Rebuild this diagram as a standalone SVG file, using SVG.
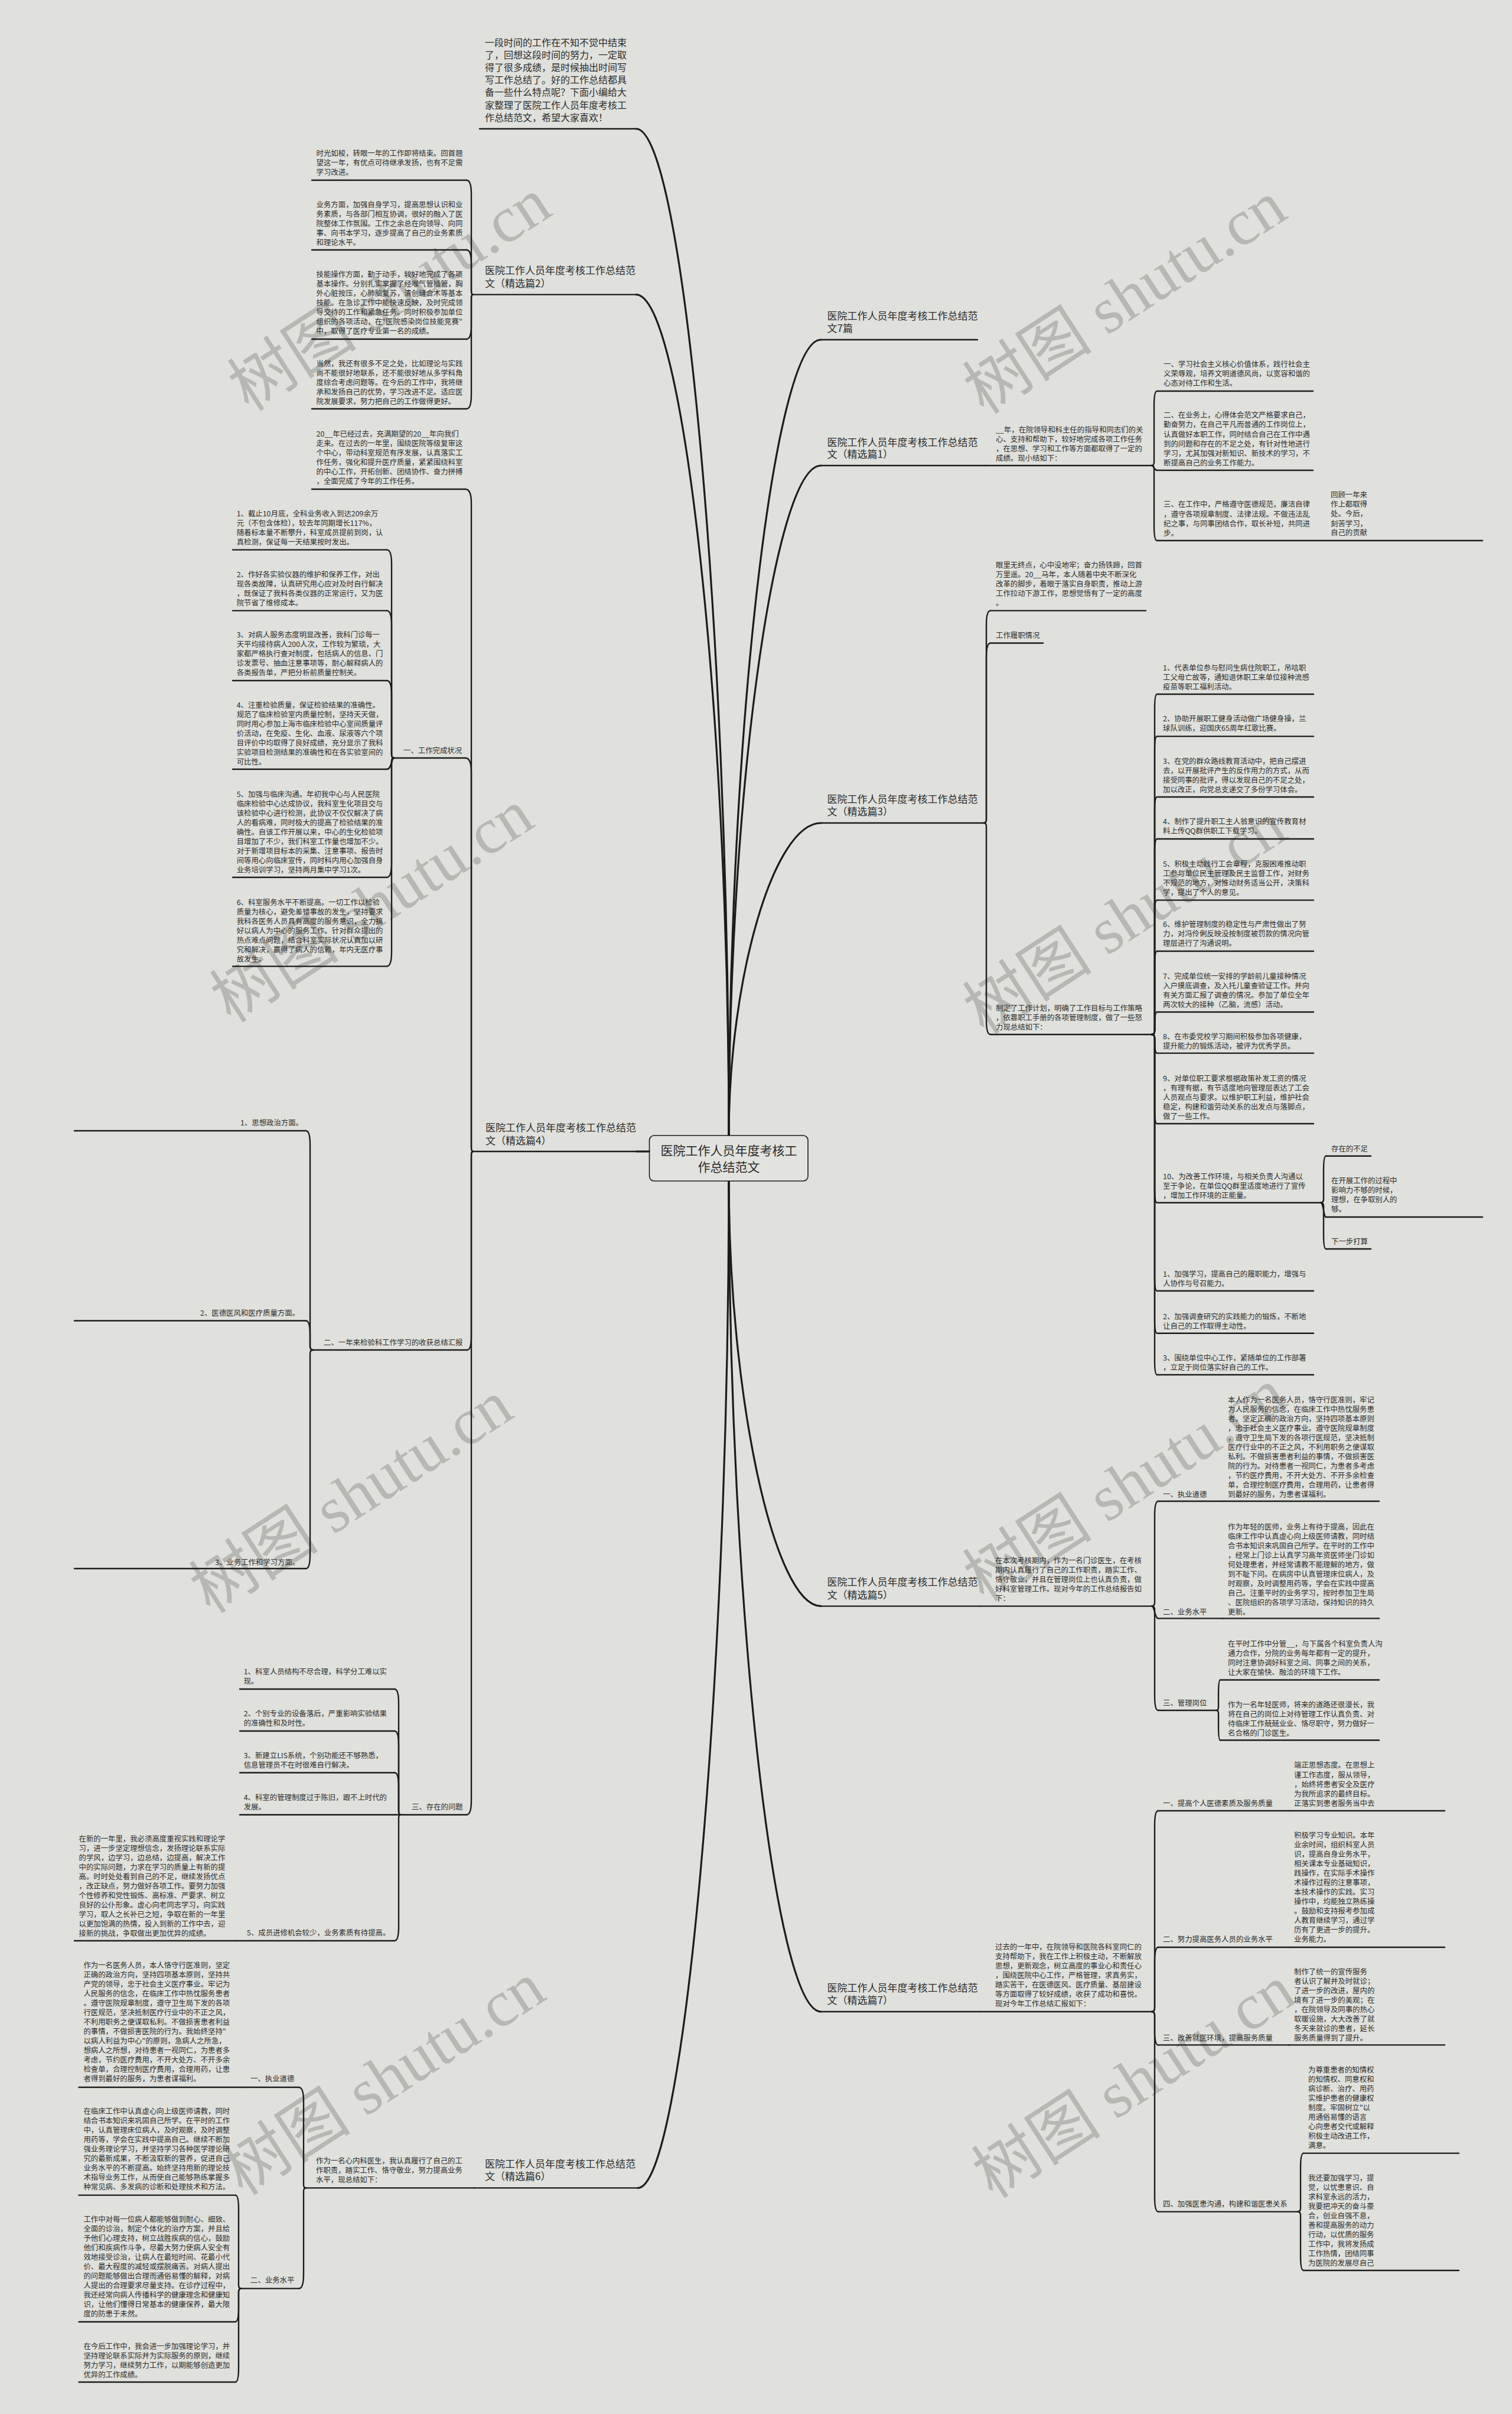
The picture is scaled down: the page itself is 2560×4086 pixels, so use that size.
<svg xmlns="http://www.w3.org/2000/svg" width="2560" height="4086" viewBox="0 0 2560 4086">
<style>
.bg{fill:#e0e1dc}
.wm{font-family:"Liberation Serif","Noto Sans CJK SC",serif;font-size:110px;fill:#b7b8b3;text-anchor:middle}
text{font-family:"Noto Sans CJK SC","Noto Sans",sans-serif;fill:#2b2b2b}
.b{font-size:12.4px}
.l{font-size:17px}
.i{font-size:16px}
.c{font-size:21px;text-anchor:middle}
.u{fill:none;stroke:#1c1c1c;stroke-width:2.4;stroke-linecap:round}
.k{fill:none;stroke:#1c1c1c;stroke-width:2.4;stroke-linecap:round;stroke-linejoin:round}
.t{fill:none;stroke:#1c1c1c;stroke-width:3.2;stroke-linecap:round}
</style>
<rect class="bg" x="0" y="0" width="2560" height="4086"/>
<g id="watermarks">
<text class="wm" transform="translate(680,530) rotate(-33)">树图 shutu.cn</text>
<text class="wm" transform="translate(650,1565) rotate(-33)">树图 shutu.cn</text>
<text class="wm" transform="translate(615,2565) rotate(-33)">树图 shutu.cn</text>
<text class="wm" transform="translate(670,3550) rotate(-33)">树图 shutu.cn</text>
<text class="wm" transform="translate(1925,535) rotate(-33)">树图 shutu.cn</text>
<text class="wm" transform="translate(1925,1585) rotate(-33)">树图 shutu.cn</text>
<text class="wm" transform="translate(1925,2545) rotate(-33)">树图 shutu.cn</text>
<text class="wm" transform="translate(1940,3555) rotate(-33)">树图 shutu.cn</text>
</g>

<g id="connectors">
<path class="t" d="M1077,218 C1157,218 1234,1070 1234,1922"/>
<path class="t" d="M1077,498.6 C1157,498.6 1234,1210 1234,1922"/>
<path class="t" d="M1390,575 C1310,575 1234,1248 1234,1922"/>
<path class="t" d="M1390,788 C1310,788 1234,1355 1234,1922"/>
<path class="t" d="M1390,1393 C1310,1393 1234,1657 1234,1922"/>
<path class="t" d="M1234,1999 C1234,2359 1310,2718.6 1390,2718.6"/>
<path class="t" d="M1234,1999 C1234,2702 1310,3405 1390,3405"/>
<path class="t" d="M1234,1999 C1234,2851 1157,3703.4 1080,3703.4"/>
<path class="t" d="M1099.5,1949 L1077,1949"/>
<path class="k" d="M790,305 Q798,305 798,329 L798,492.6 Q798,498.6 801,498.6"/>
<path class="k" d="M790,423 Q798,423 798,447 L798,492.6 Q798,498.6 801,498.6"/>
<path class="k" d="M790,574 Q798,574 798,550 L798,504.6 Q798,498.6 801,498.6"/>
<path class="k" d="M790,692 Q798,692 798,668 L798,504.6 Q798,498.6 801,498.6"/>
<path class="k" d="M788,828 Q798,828 798,852 L798,1943 Q798,1949 801,1949"/>
<path class="k" d="M788,1283 Q798,1283 798,1307 L798,1943 Q798,1949 801,1949"/>
<path class="k" d="M791,2285 Q798,2285 798,2261 L798,1955 Q798,1949 801,1949"/>
<path class="k" d="M790,3071.7 Q798,3071.7 798,3047.7 L798,1955 Q798,1949 801,1949"/>
<path class="k" d="M655,930.6 Q663,930.6 663,954.6 L663,1277 Q663,1283 667,1283"/>
<path class="k" d="M655,1033.6 Q663,1033.6 663,1057.6 L663,1277 Q663,1283 667,1283"/>
<path class="k" d="M655,1152 Q663,1152 663,1176 L663,1277 Q663,1283 667,1283"/>
<path class="k" d="M655,1302 C663,1302 663,1283 667,1283"/>
<path class="k" d="M655,1485 Q663,1485 663,1461 L663,1289 Q663,1283 667,1283"/>
<path class="k" d="M655,1635.6 Q663,1635.6 663,1611.6 L663,1289 Q663,1283 667,1283"/>
<path class="k" d="M518,1914 Q525,1914 525,1938 L525,2279 Q525,2285 530,2285"/>
<path class="k" d="M518,2235.5 Q525,2235.5 525,2259.5 L525,2279 Q525,2285 530,2285"/>
<path class="k" d="M518,2655 Q525,2655 525,2631 L525,2291 Q525,2285 530,2285"/>
<path class="k" d="M668,2859 Q675,2859 675,2883 L675,3065.7 Q675,3071.7 678,3071.7"/>
<path class="k" d="M668,2930 Q675,2930 675,2954 L675,3065.7 Q675,3071.7 678,3071.7"/>
<path class="k" d="M668,3000.5 Q675,3000.5 675,3024.5 L675,3065.7 Q675,3071.7 678,3071.7"/>
<path class="k" d="M668,3071.7 L678,3071.7"/>
<path class="k" d="M668,3285 Q675,3285 675,3261 L675,3077.7 Q675,3071.7 678,3071.7"/>
<path class="k" d="M506,3533 Q514,3533 514,3557 L514,3697.4 Q514,3703.4 518,3703.4"/>
<path class="k" d="M506,3873.6 Q514,3873.6 514,3849.6 L514,3709.4 Q514,3703.4 518,3703.4"/>
<path class="k" d="M398.6,3715.6 Q404,3715.6 404,3739.6 L404,3867.6 Q404,3873.6 408,3873.6"/>
<path class="k" d="M398.6,3930 Q404,3930 404,3906 L404,3879.6 Q404,3873.6 408,3873.6"/>
<path class="k" d="M398.6,4032 Q404,4032 404,4008 L404,3879.6 Q404,3873.6 408,3873.6"/>
<path class="k" d="M1950,788 Q1954,788 1954,782 L1954,686 Q1954,662 1959,662"/>
<path class="k" d="M1950,788 C1954,788 1954,796 1959,796"/>
<path class="k" d="M1950,788 Q1954,788 1954,794 L1954,891 Q1954,915 1959,915"/>
<path class="k" d="M1666,1393 Q1670,1393 1670,1387 L1670,1057.6 Q1670,1033.6 1677,1033.6"/>
<path class="k" d="M1666,1393 Q1670,1393 1670,1387 L1670,1112.5 Q1670,1088.5 1677,1088.5"/>
<path class="k" d="M1666,1393 Q1670,1393 1670,1399 L1670,1727 Q1670,1751 1677,1751"/>
<path class="k" d="M1950,1751 Q1955,1751 1955,1745 L1955,1199 Q1955,1175 1959,1175"/>
<path class="k" d="M1950,1751 Q1955,1751 1955,1745 L1955,1270.4 Q1955,1246.4 1959,1246.4"/>
<path class="k" d="M1950,1751 Q1955,1751 1955,1745 L1955,1373 Q1955,1349 1959,1349"/>
<path class="k" d="M1950,1751 Q1955,1751 1955,1745 L1955,1444 Q1955,1420 1959,1420"/>
<path class="k" d="M1950,1751 Q1955,1751 1955,1745 L1955,1547.6 Q1955,1523.6 1959,1523.6"/>
<path class="k" d="M1950,1751 Q1955,1751 1955,1745 L1955,1634 Q1955,1610 1959,1610"/>
<path class="k" d="M1950,1751 Q1955,1751 1955,1745 L1955,1737 Q1955,1713 1959,1713"/>
<path class="k" d="M1950,1751 Q1955,1751 1955,1757 L1955,1758.6 Q1955,1782.6 1959,1782.6"/>
<path class="k" d="M1950,1751 Q1955,1751 1955,1757 L1955,1878 Q1955,1902 1959,1902"/>
<path class="k" d="M1950,1751 Q1955,1751 1955,1757 L1955,2011.7 Q1955,2035.7 1959,2035.7"/>
<path class="k" d="M1950,1751 Q1955,1751 1955,1757 L1955,2161 Q1955,2185 1959,2185"/>
<path class="k" d="M1950,1751 Q1955,1751 1955,1757 L1955,2232.7 Q1955,2256.7 1959,2256.7"/>
<path class="k" d="M1950,1751 Q1955,1751 1955,1757 L1955,2303 Q1955,2327 1959,2327"/>
<path class="k" d="M2236,2035.7 Q2241,2035.7 2241,2029.7 L2241,1980.7 Q2241,1956.7 2245,1956.7"/>
<path class="k" d="M2236,2035.7 C2241,2035.7 2241,2060 2245,2060"/>
<path class="k" d="M2236,2035.7 Q2241,2035.7 2241,2041.7 L2241,2090 Q2241,2114 2245,2114"/>
<path class="k" d="M1950,2718.6 Q1955,2718.6 1955,2712.6 L1955,2565 Q1955,2541 1961,2541"/>
<path class="k" d="M1950,2718.6 C1955,2718.6 1955,2739.4 1961,2739.4"/>
<path class="k" d="M1950,2718.6 Q1955,2718.6 1955,2724.6 L1955,2871 Q1955,2895 1961,2895"/>
<path class="k" d="M2060,2895 Q2063,2895 2063,2889 L2063,2867.5 Q2063,2843.5 2066,2843.5"/>
<path class="k" d="M2060,2895 Q2063,2895 2063,2901 L2063,2921.5 Q2063,2945.5 2066,2945.5"/>
<path class="k" d="M1950,3405 Q1955,3405 1955,3399 L1955,3089 Q1955,3065 1961,3065"/>
<path class="k" d="M1950,3405 Q1955,3405 1955,3399 L1955,3320 Q1955,3296 1961,3296"/>
<path class="k" d="M1950,3405 Q1955,3405 1955,3411 L1955,3437.4 Q1955,3461.4 1961,3461.4"/>
<path class="k" d="M1950,3405 Q1955,3405 1955,3411 L1955,3719.6 Q1955,3743.6 1961,3743.6"/>
<path class="k" d="M2197,3743.6 Q2202,3743.6 2202,3737.6 L2202,3668.6 Q2202,3644.6 2207,3644.6"/>
<path class="k" d="M2197,3743.6 Q2202,3743.6 2202,3749.6 L2202,3819 Q2202,3843 2207,3843"/>
</g>

<g id="center">
<rect x="1099.5" y="1922" width="268.5" height="77" rx="8" fill="#e2e3de" stroke="#1c1c1c" stroke-width="1.6"/>
<text class="c"><tspan x="1234" y="1954.7">医院工作人员年度考核工</tspan><tspan x="1234" y="1983">作总结范文</tspan></text>
</g>

<g id="intro">
<text class="i"><tspan x="821" y="77.5">一段时间的工作在不知不觉中结束</tspan><tspan x="821" y="98.7">了，回想这段时间的努力，一定取</tspan><tspan x="821" y="119.9">得了很多成绩，是时候抽出时间写</tspan><tspan x="821" y="141.1">写工作总结了。好的工作总结都具</tspan><tspan x="821" y="162.3">备一些什么特点呢？下面小编给大</tspan><tspan x="821" y="183.5">家整理了医院工作人员年度考核工</tspan><tspan x="821" y="204.7">作总结范文，希望大家喜欢！</tspan></text>
<path class="u" d="M812,218 H1077"/>
</g>

<g id="pian2">
<text class="l"><tspan x="821" y="464">医院工作人员年度考核工作总结范</tspan><tspan x="821" y="486">文（精选篇2）</tspan></text>
<path class="u" d="M801,498.6 H1077"/>
</g>
<g id="p2a">
<text class="b"><tspan x="535.6" y="263.6">时光如梭，转眼一年的工作即将结束。回首翘</tspan><tspan x="535.6" y="279.6">望这一年，有优点可待继承发扬，也有不足需</tspan><tspan x="535.6" y="295.6">学习改进。</tspan></text>
<path class="u" d="M528,305 H790"/>
</g>
<g id="p2b">
<text class="b"><tspan x="535.6" y="351">业务方面，加强自身学习，提高思想认识和业</tspan><tspan x="535.6" y="367">务素质，与各部门相互协调，很好的融入了医</tspan><tspan x="535.6" y="383">院整体工作氛围。工作之余总在向领导、向同</tspan><tspan x="535.6" y="399">事、向书本学习，逐步提高了自己的业务素质</tspan><tspan x="535.6" y="415">和理论水平。</tspan></text>
<path class="u" d="M528,423 H790"/>
</g>
<g id="p2c">
<text class="b"><tspan x="535.6" y="469">技能操作方面，勤于动手，较好地完成了各项</tspan><tspan x="535.6" y="485">基本操作。分别扎实掌握了经喉气管插管，胸</tspan><tspan x="535.6" y="501">外心脏按压，心肺脑复苏，清创缝合术等基本</tspan><tspan x="535.6" y="517">技能。在急诊工作中能快速反映，及时完成领</tspan><tspan x="535.6" y="533">导交待的工作和紧急任务。同时积极参加单位</tspan><tspan x="535.6" y="549">组织的各项活动，在"医院感染岗位技能竞赛"</tspan><tspan x="535.6" y="565">中，取得了医疗专业第一名的成绩。</tspan></text>
<path class="u" d="M528,574 H790"/>
</g>
<g id="p2d">
<text class="b"><tspan x="535.6" y="620">当然，我还有很多不足之处，比如理论与实践</tspan><tspan x="535.6" y="636">尚不能很好地联系，还不能很好地从多学科角</tspan><tspan x="535.6" y="652">度综合考虑问题等。在今后的工作中，我将继</tspan><tspan x="535.6" y="668">承和发扬自己的优势，学习改进不足。适应医</tspan><tspan x="535.6" y="684">院发展要求，努力把自己的工作做得更好。</tspan></text>
<path class="u" d="M528,692 H790"/>
</g>

<g id="pian4">
<text class="l"><tspan x="822" y="1915">医院工作人员年度考核工作总结范</tspan><tspan x="822" y="1936.5">文（精选篇4）</tspan></text>
<path class="u" d="M801,1949 H1099.5"/>
</g>
<g id="p4intro">
<text class="b"><tspan x="535.6" y="738.5">20__年已经过去，充满期望的20__年向我们</tspan><tspan x="535.6" y="754.5">走来。在过去的一年里，围绕医院等级复审这</tspan><tspan x="535.6" y="770.5">个中心，带动科室规范有序发展，认真落实工</tspan><tspan x="535.6" y="786.5">作任务，强化和提升医疗质量，紧紧围绕科室</tspan><tspan x="535.6" y="802.5">的中心工作，开拓创新、团结协作、奋力拼搏</tspan><tspan x="535.6" y="818.5">，全面完成了今年的工作任务。</tspan></text>
<path class="u" d="M528,828 H788"/>
</g>
<g id="p4s1">
<text class="b"><tspan x="683" y="1274.5">一、工作完成状况</tspan></text>
<path class="u" d="M667,1283 H788"/>
</g>
<g id="p4s1i1">
<text class="b"><tspan x="400.7" y="873.5">1、截止10月底，全科业务收入到达209余万</tspan><tspan x="400.7" y="889.5">元（不包含体检），较去年同期增长117%，</tspan><tspan x="400.7" y="905.5">随着标本量不断攀升，科室成员提前到岗，认</tspan><tspan x="400.7" y="921.5">真检测，保证每一天结果按时发出。</tspan></text>
<path class="u" d="M394,930.6 H655"/>
</g>
<g id="p4s1i2">
<text class="b"><tspan x="400.7" y="976.5">2、作好各实验仪器的维护和保养工作，对出</tspan><tspan x="400.7" y="992.5">现各类故障，认真研究用心应对及时自行解决</tspan><tspan x="400.7" y="1008.5">，既保证了我科各类仪器的正常运行，又为医</tspan><tspan x="400.7" y="1024.5">院节省了维修成本。</tspan></text>
<path class="u" d="M394,1033.6 H655"/>
</g>
<g id="p4s1i3">
<text class="b"><tspan x="400.7" y="1079">3、对病人服务态度明显改善，我科门诊每一</tspan><tspan x="400.7" y="1095">天平均接待病人200人次，工作较为繁琐，大</tspan><tspan x="400.7" y="1111">家都严格执行查对制度，包括病人的信息、门</tspan><tspan x="400.7" y="1127">诊发票号、抽血注意事项等，耐心解释病人的</tspan><tspan x="400.7" y="1143">各类报告单，严把分析前质量控制关。</tspan></text>
<path class="u" d="M394,1152 H655"/>
</g>
<g id="p4s1i4">
<text class="b"><tspan x="400.7" y="1197.5">4、注重检验质量，保证检验结果的准确性。</tspan><tspan x="400.7" y="1213.5">规范了临床检验室内质量控制，坚持天天做，</tspan><tspan x="400.7" y="1229.5">同时用心参加上海市临床检验中心室间质量评</tspan><tspan x="400.7" y="1245.5">价活动，在免疫、生化、血液、尿液等六个项</tspan><tspan x="400.7" y="1261.5">目评价中均取得了良好成绩，充分显示了我科</tspan><tspan x="400.7" y="1277.5">实验项目检测结果的准确性和在各实验室间的</tspan><tspan x="400.7" y="1293.5">可比性。</tspan></text>
<path class="u" d="M394,1302 H655"/>
</g>
<g id="p4s1i5">
<text class="b"><tspan x="400.7" y="1348.5">5、加强与临床沟通。年初我中心与人民医院</tspan><tspan x="400.7" y="1364.5">临床检验中心达成协议，我科室生化项目交与</tspan><tspan x="400.7" y="1380.5">该检验中心进行检测，此协议不仅仅解决了病</tspan><tspan x="400.7" y="1396.5">人的看病难，同时极大的提高了检验结果的准</tspan><tspan x="400.7" y="1412.5">确性。自该工作开展以来，中心的生化检验项</tspan><tspan x="400.7" y="1428.5">目增加了不少，我们科室工作量也增加不少。</tspan><tspan x="400.7" y="1444.5">对于新增项目标本的采集、注意事项、报告时</tspan><tspan x="400.7" y="1460.5">间等用心向临床宣传，同时科内用心加强自身</tspan><tspan x="400.7" y="1476.5">业务培训学习，坚持两月集中学习1次。</tspan></text>
<path class="u" d="M394,1485 H655"/>
</g>
<g id="p4s1i6">
<text class="b"><tspan x="400.7" y="1531.5">6、科室服务水平不断提高。一切工作以检验</tspan><tspan x="400.7" y="1547.5">质量为核心，避免差错事故的发生，坚持要求</tspan><tspan x="400.7" y="1563.5">我科各医务人员具有高度的服务意识，全力搞</tspan><tspan x="400.7" y="1579.5">好以病人为中心的服务工作。针对群众提出的</tspan><tspan x="400.7" y="1595.5">热点难点问题，结合科室实际状况认真加以研</tspan><tspan x="400.7" y="1611.5">究和解决，赢得了病人的信赖，年内无医疗事</tspan><tspan x="400.7" y="1627.5">故发生。</tspan></text>
<path class="u" d="M394,1635.6 H655"/>
</g>
<g id="p4s2">
<text class="b"><tspan x="548" y="2276.5">二、一年来检验科工作学习的收获总结汇报</tspan></text>
<path class="u" d="M530,2285 H791"/>
</g>
<g id="p4s2i1">
<text class="b"><tspan x="407" y="1905">1、思想政治方面。</tspan></text>
<path class="u" d="M126,1914 H518"/>
</g>
<g id="p4s2i2">
<text class="b"><tspan x="339" y="2226.5">2、医德医风和医疗质量方面。</tspan></text>
<path class="u" d="M126,2235.5 H518"/>
</g>
<g id="p4s2i3">
<text class="b"><tspan x="364" y="2648.5">3、业务工作和学习方面。</tspan></text>
<path class="u" d="M126,2655 H518"/>
</g>
<g id="p4s3">
<text class="b"><tspan x="697" y="3062.5">三、存在的问题</tspan></text>
<path class="u" d="M678,3071.7 H790"/>
</g>
<g id="p4s3i1">
<text class="b"><tspan x="412.7" y="2834">1、科室人员结构不尽合理，科学分工难以实</tspan><tspan x="412.7" y="2850">现。</tspan></text>
<path class="u" d="M406,2859 H668"/>
</g>
<g id="p4s3i2">
<text class="b"><tspan x="412.7" y="2904.5">2、个别专业的设备落后，严重影响实验结果</tspan><tspan x="412.7" y="2920.5">的准确性和及时性。</tspan></text>
<path class="u" d="M406,2930 H668"/>
</g>
<g id="p4s3i3">
<text class="b"><tspan x="412.7" y="2975.5">3、新建立LIS系统，个别功能还不够熟悉，</tspan><tspan x="412.7" y="2991.5">信息管理员不在时很难自行解决。</tspan></text>
<path class="u" d="M406,3000.5 H668"/>
</g>
<g id="p4s3i4">
<text class="b"><tspan x="412.7" y="3046.5">4、科室的管理制度过于陈旧，跟不上时代的</tspan><tspan x="412.7" y="3062.5">发展。</tspan></text>
<path class="u" d="M406,3071.7 H668"/>
</g>
<g id="p4s3i5">
<text class="b"><tspan x="418" y="3276">5、成员进修机会较少，业务素质有待提高。</tspan></text>
<path class="u" d="M400,3285 H668"/>
</g>
<g id="p4s3i5a">
<text class="b"><tspan x="133.5" y="3116.5">在新的一年里，我必须高度重视实践和理论学</tspan><tspan x="133.5" y="3132.5">习，进一步坚定理想信念，发扬理论联系实际</tspan><tspan x="133.5" y="3148.5">的学风，边学习，边总结，边提高，解决工作</tspan><tspan x="133.5" y="3164.5">中的实际问题，力求在学习的质量上有新的提</tspan><tspan x="133.5" y="3180.5">高。时时处处看到自己的不足，继续发扬优点</tspan><tspan x="133.5" y="3196.5">，改正缺点，努力做好各项工作。要努力加强</tspan><tspan x="133.5" y="3212.5">个性修养和党性锻炼、高标准、严要求、树立</tspan><tspan x="133.5" y="3228.5">良好的公仆形象。虚心向老同志学习，向实践</tspan><tspan x="133.5" y="3244.5">学习，取人之长补已之短，争取在新的一年里</tspan><tspan x="133.5" y="3260.5">以更加饱满的热情，投入到新的工作中去，迎</tspan><tspan x="133.5" y="3276.5">接新的挑战，争取做出更加优异的成绩。</tspan></text>
<path class="u" d="M126,3285 H400"/>
</g>

<g id="pian6">
<text class="l"><tspan x="821" y="3669">医院工作人员年度考核工作总结范</tspan><tspan x="821" y="3690">文（精选篇6）</tspan></text>
<path class="u" d="M803,3703.4 H1080"/>
</g>
<g id="p6d">
<text class="b"><tspan x="535" y="3661.5">作为一名心内科医生，我认真履行了自己的工</tspan><tspan x="535" y="3677.5">作职责，踏实工作、恪守敬业，努力提高业务</tspan><tspan x="535" y="3693.5">水平，现总结如下：</tspan></text>
<path class="u" d="M518,3703.4 H803"/>
</g>
<g id="p6s1">
<text class="b"><tspan x="424" y="3523">一、执业道德</tspan></text>
<path class="u" d="M416,3533 H506"/>
</g>
<g id="p6s1a">
<text class="b"><tspan x="141.4" y="3331.3">作为一名医务人员，本人恪守行医准则，坚定</tspan><tspan x="141.4" y="3347.3">正确的政治方向，坚持四项基本原则，坚持共</tspan><tspan x="141.4" y="3363.3">产党的领导，忠于社会主义医疗事业。牢记为</tspan><tspan x="141.4" y="3379.3">人民服务的信念，在临床工作中热忱服务患者</tspan><tspan x="141.4" y="3395.3">。遵守医院规章制度，遵守卫生局下发的各项</tspan><tspan x="141.4" y="3411.3">行医规范，坚决抵制医疗行业中的不正之风，</tspan><tspan x="141.4" y="3427.3">不利用职务之便谋取私利。不做损害患者利益</tspan><tspan x="141.4" y="3443.3">的事情，不做损害医院的行为。我始终坚持"</tspan><tspan x="141.4" y="3459.3">以病人利益为中心"的原则，急病人之所急，</tspan><tspan x="141.4" y="3475.3">想病人之所想，对待患者一视同仁，为患者多</tspan><tspan x="141.4" y="3491.3">考虑，节约医疗费用，不开大处方、不开多余</tspan><tspan x="141.4" y="3507.3">检查单，合理控制医疗费用，合理用药，让患</tspan><tspan x="141.4" y="3523.3">者得到最好的服务，为患者谋福利。</tspan></text>
<path class="u" d="M133.5,3533 H416"/>
</g>
<g id="p6s2">
<text class="b"><tspan x="424" y="3864">二、业务水平</tspan></text>
<path class="u" d="M408,3873.6 H506"/>
</g>
<g id="p6s2a">
<text class="b"><tspan x="141.4" y="3578">在临床工作中认真虚心向上级医师请教，同时</tspan><tspan x="141.4" y="3594">结合书本知识来巩固自己所学。在平时的工作</tspan><tspan x="141.4" y="3610">中，认真管理床位病人，及时观察，及时调整</tspan><tspan x="141.4" y="3626">用药等，学会在实践中提高自己。继续不断加</tspan><tspan x="141.4" y="3642">强业务理论学习，并坚持学习各种医学理论研</tspan><tspan x="141.4" y="3658">究的最新成果，不断汲取新的营养，促进自己</tspan><tspan x="141.4" y="3674">业务水平的不断提高。始终坚持用新的理论技</tspan><tspan x="141.4" y="3690">术指导业务工作，从而使自己能够熟练掌握多</tspan><tspan x="141.4" y="3706">种常见病、多发病的诊断和处理技术和方法。</tspan></text>
<path class="u" d="M133.5,3715.6 H398.6"/>
</g>
<g id="p6s2b">
<text class="b"><tspan x="141.4" y="3760.5">工作中对每一位病人都能够做到耐心、细致、</tspan><tspan x="141.4" y="3776.5">全面的诊治，制定个体化的治疗方案，并且给</tspan><tspan x="141.4" y="3792.5">予他们心理支持，树立战胜疾病的信心，鼓励</tspan><tspan x="141.4" y="3808.5">他们和疾病作斗争，尽最大努力使病人安全有</tspan><tspan x="141.4" y="3824.5">效地接受诊治，让病人在最短时间、花最小代</tspan><tspan x="141.4" y="3840.5">价、最大程度的减轻或摆脱痛苦。对病人提出</tspan><tspan x="141.4" y="3856.5">的问题能够做出合理而通俗易懂的解释，对病</tspan><tspan x="141.4" y="3872.5">人提出的合理要求尽量支持。在诊疗过程中，</tspan><tspan x="141.4" y="3888.5">我还经常向病人传播科学的健康理念和健康知</tspan><tspan x="141.4" y="3904.5">识，让他们懂得日常基本的健康保养，最大限</tspan><tspan x="141.4" y="3920.5">度的防患于未然。</tspan></text>
<path class="u" d="M133.5,3930 H398.6"/>
</g>
<g id="p6s2c">
<text class="b"><tspan x="141.4" y="3975.5">在今后工作中，我会进一步加强理论学习，并</tspan><tspan x="141.4" y="3991.5">坚持理论联系实际并为实际服务的原则，继续</tspan><tspan x="141.4" y="4007.5">努力学习，继续努力工作，以期能够创造更加</tspan><tspan x="141.4" y="4023.5">优异的工作成绩。</tspan></text>
<path class="u" d="M133.5,4032 H398.6"/>
</g>

<g id="title7">
<text class="l"><tspan x="1400.6" y="541">医院工作人员年度考核工作总结范</tspan><tspan x="1400.6" y="562">文7篇</tspan></text>
<path class="u" d="M1390,575 H1655"/>
</g>

<g id="pian1">
<text class="l"><tspan x="1400.6" y="755">医院工作人员年度考核工作总结范</tspan><tspan x="1400.6" y="775">文（精选篇1）</tspan></text>
<path class="u" d="M1390,788 H1669"/>
</g>
<g id="p1d">
<text class="b"><tspan x="1686" y="732.2">__年，在院领导和科主任的指导和同志们的关</tspan><tspan x="1686" y="748">心、支持和帮助下，较好地完成各项工作任务</tspan><tspan x="1686" y="763.5">，在思想、学习和工作等方面都取得了一定的</tspan><tspan x="1686" y="779.5">成绩。现小结如下：</tspan></text>
<path class="u" d="M1669,788 H1950"/>
</g>
<g id="p1a">
<text class="b"><tspan x="1970" y="621.2">一、学习社会主义核心价值体系，践行社会主</tspan><tspan x="1970" y="637.2">义荣辱观，培养文明道德风尚，以宽容和谐的</tspan><tspan x="1970" y="652.8">心态对待工作和生活。</tspan></text>
<path class="u" d="M1959,662 H2223"/>
</g>
<g id="p1b">
<text class="b"><tspan x="1970" y="707.2">二、在业务上，心得体会范文严格要求自己，</tspan><tspan x="1970" y="723">勤奋努力，在自己平凡而普通的工作岗位上，</tspan><tspan x="1970" y="739.5">认真做好本职工作，同时结合自己在工作中遇</tspan><tspan x="1970" y="755.5">到的问题和存在的不足之处，有针对性地进行</tspan><tspan x="1970" y="771.8">学习，尤其加强对新知识、新技术的学习，不</tspan><tspan x="1970" y="787.8">断提高自己的业务工作能力。</tspan></text>
<path class="u" d="M1959,796 H2223"/>
</g>
<g id="p1c">
<text class="b"><tspan x="1970" y="857.8">三、在工作中，严格遵守医德规范，廉洁自律</tspan><tspan x="1970" y="874.5">，遵守各项规章制度、法律法规。不做违法乱</tspan><tspan x="1970" y="890.5">纪之事，与同事团结合作，取长补短，共同进</tspan><tspan x="1970" y="907.2">步。</tspan></text>
<path class="u" d="M1959,915 H2245"/>
</g>
<g id="p1c1">
<text class="b"><tspan x="2253" y="842.2">回顾一年来</tspan><tspan x="2253" y="857.8">作上都取得</tspan><tspan x="2253" y="873.8">处。今后，</tspan><tspan x="2253" y="890.5">刻苦学习，</tspan><tspan x="2253" y="906.2">自己的贡献</tspan></text>
<path class="u" d="M2245,915 H2510"/>
</g>

<g id="pian3">
<text class="l"><tspan x="1400.6" y="1359">医院工作人员年度考核工作总结范</tspan><tspan x="1400.6" y="1380">文（精选篇3）</tspan></text>
<path class="u" d="M1390,1393 H1666"/>
</g>
<g id="p3a">
<text class="b"><tspan x="1686" y="960.5">眼里无终点，心中没地牢；奋力扬铁蹄，回首</tspan><tspan x="1686" y="976.5">万里遥。20__马年，本人随着中央不断深化</tspan><tspan x="1686" y="992.5">改革的脚步，着眼于落实自身职责，推动上游</tspan><tspan x="1686" y="1008.5">工作拉动下游工作，思想觉悟有了一定的高度</tspan><tspan x="1686" y="1024.5">。</tspan></text>
<path class="u" d="M1677,1033.6 H1940"/>
</g>
<g id="p3b">
<text class="b"><tspan x="1686" y="1079.5">工作履职情况</tspan></text>
<path class="u" d="M1677,1088.5 H1766"/>
</g>
<g id="p3c">
<text class="b"><tspan x="1686" y="1710.5">制定了工作计划，明确了工作目标与工作策略</tspan><tspan x="1686" y="1726.5">，依靠职工手册的各项管理制度，做了一些怒</tspan><tspan x="1686" y="1742.5">力现总结如下：</tspan></text>
<path class="u" d="M1677,1751 H1950"/>
</g>
<g id="p3c1">
<text class="b"><tspan x="1969" y="1134.5">1、代表单位参与慰问生病住院职工，吊唁职</tspan><tspan x="1969" y="1150.5">工父母亡故等，通知退休职工来单位接种流感</tspan><tspan x="1969" y="1166.5">疫苗等职工福利活动。</tspan></text>
<path class="u" d="M1959,1175 H2224"/>
</g>
<g id="p3c2">
<text class="b"><tspan x="1969" y="1221">2、协助开展职工健身活动做广场健身操，兰</tspan><tspan x="1969" y="1237">球队训练，迎国庆65周年红歌比赛。</tspan></text>
<path class="u" d="M1959,1246.4 H2224"/>
</g>
<g id="p3c3">
<text class="b"><tspan x="1969" y="1292.5">3、在党的群众路线教育活动中，把自己摆进</tspan><tspan x="1969" y="1308.5">去，以开展批评产生的反作用力的方式，从而</tspan><tspan x="1969" y="1324.5">接受同事的批评，得以发现自己的不足之处，</tspan><tspan x="1969" y="1340.5">加以改正，向党总支递交了多份学习体会。</tspan></text>
<path class="u" d="M1959,1349 H2224"/>
</g>
<g id="p3c4">
<text class="b"><tspan x="1969" y="1394.5">4、制作了提升职工主人翁意识的宣传教育材</tspan><tspan x="1969" y="1410.5">料上传QQ群供职工下载学习。</tspan></text>
<path class="u" d="M1959,1420 H2224"/>
</g>
<g id="p3c5">
<text class="b"><tspan x="1969" y="1466.5">5、积极主动践行工会章程，克服困难推动职</tspan><tspan x="1969" y="1482.5">工参与单位民主管理及民主监督工作，对财务</tspan><tspan x="1969" y="1498.5">不规范的地方，对推动财务适当公开，决策科</tspan><tspan x="1969" y="1514.5">学，提出了个人的意见。</tspan></text>
<path class="u" d="M1959,1523.6 H2224"/>
</g>
<g id="p3c6">
<text class="b"><tspan x="1969" y="1568.5">6、维护管理制度的稳定性与严肃性做出了努</tspan><tspan x="1969" y="1584.5">力，对冯伶俐反映没按制度被罚款的情况向管</tspan><tspan x="1969" y="1600.5">理层进行了沟通说明。</tspan></text>
<path class="u" d="M1959,1610 H2224"/>
</g>
<g id="p3c7">
<text class="b"><tspan x="1969" y="1656.5">7、完成单位统一安排的学龄前儿童接种情况</tspan><tspan x="1969" y="1672.5">入户摸底调查，及入托儿童查验证工作。并向</tspan><tspan x="1969" y="1688.5">有关方面汇报了调查的情况。参加了单位全年</tspan><tspan x="1969" y="1704.5">两次较大的接种（乙脑，流感）活动。</tspan></text>
<path class="u" d="M1959,1713 H2224"/>
</g>
<g id="p3c8">
<text class="b"><tspan x="1969" y="1758.5">8、在市委党校学习期间积极参加各项健康，</tspan><tspan x="1969" y="1774.5">提升能力的锻炼活动，被评为优秀学员。</tspan></text>
<path class="u" d="M1959,1782.6 H2224"/>
</g>
<g id="p3c9">
<text class="b"><tspan x="1969" y="1829.5">9、对单位职工要求根据政策补发工资的情况</tspan><tspan x="1969" y="1845.5">，有理有据，有节适度地向管理层表达了工会</tspan><tspan x="1969" y="1861.5">人员观点与要求。以维护职工利益，维护社会</tspan><tspan x="1969" y="1877.5">稳定，构建和谐劳动关系的出发点与落脚点，</tspan><tspan x="1969" y="1893.5">做了一些工作。</tspan></text>
<path class="u" d="M1959,1902 H2224"/>
</g>
<g id="p3c10">
<text class="b"><tspan x="1969" y="1995.5">10、为改善工作环境，与相关负责人沟通以</tspan><tspan x="1969" y="2011.5">至于争论，在单位QQ群里适度地进行了宣传</tspan><tspan x="1969" y="2027.5">，增加工作环境的正能量。</tspan></text>
<path class="u" d="M1959,2035.7 H2236"/>
</g>
<g id="p3c10a">
<text class="b"><tspan x="2254" y="1948.5">存在的不足</tspan></text>
<path class="u" d="M2245,1956.7 H2321"/>
</g>
<g id="p3c10b">
<text class="b"><tspan x="2254" y="2002.5">在开展工作的过程中</tspan><tspan x="2254" y="2018.5">影响力不够的时候，</tspan><tspan x="2254" y="2034.5">理想，在争取别人的</tspan><tspan x="2254" y="2051">够。</tspan></text>
<path class="u" d="M2245,2060 H2510"/>
</g>
<g id="p3c10c">
<text class="b"><tspan x="2254" y="2105.5">下一步打算</tspan></text>
<path class="u" d="M2245,2114 H2321"/>
</g>
<g id="p3c11">
<text class="b"><tspan x="1969" y="2160.5">1、加强学习，提高自己的履职能力，增强与</tspan><tspan x="1969" y="2176.5">人协作与号召能力。</tspan></text>
<path class="u" d="M1959,2185 H2224"/>
</g>
<g id="p3c12">
<text class="b"><tspan x="1969" y="2232.5">2、加强调查研究的实践能力的锻炼，不断地</tspan><tspan x="1969" y="2248.5">让自己的工作取得主动性。</tspan></text>
<path class="u" d="M1959,2256.7 H2224"/>
</g>
<g id="p3c13">
<text class="b"><tspan x="1969" y="2302.5">3、围绕单位中心工作，紧随单位的工作部署</tspan><tspan x="1969" y="2318.5">，立足于岗位落实好自己的工作。</tspan></text>
<path class="u" d="M1959,2327 H2224"/>
</g>

<g id="pian5">
<text class="l"><tspan x="1400.6" y="2684">医院工作人员年度考核工作总结范</tspan><tspan x="1400.6" y="2706">文（精选篇5）</tspan></text>
<path class="u" d="M1390,2718.6 H1660"/>
</g>
<g id="p5d">
<text class="b"><tspan x="1685" y="2645.5">在本次考核期内，作为一名门诊医生，在考核</tspan><tspan x="1685" y="2661.5">期内认真履行了自己的工作职责，踏实工作、</tspan><tspan x="1685" y="2677.5">恪守敬业，并且在管理岗位上也认真负责，做</tspan><tspan x="1685" y="2693.5">好科室管理工作。现对今年的工作总结报告如</tspan><tspan x="1685" y="2709.5">下：</tspan></text>
<path class="u" d="M1660,2718.6 H1950"/>
</g>
<g id="p5s1">
<text class="b"><tspan x="1969" y="2533.5">一、执业道德</tspan></text>
<path class="u" d="M1961,2541 H2070"/>
</g>
<g id="p5s1a">
<text class="b"><tspan x="2079" y="2374">本人作为一名医务人员，恪守行医准则，牢记</tspan><tspan x="2079" y="2390">为人民服务的信念，在临床工作中热忱服务患</tspan><tspan x="2079" y="2406">者。坚定正确的政治方向，坚持四项基本原则</tspan><tspan x="2079" y="2422">，忠于社会主义医疗事业。遵守医院规章制度</tspan><tspan x="2079" y="2438">，遵守卫生局下发的各项行医规范，坚决抵制</tspan><tspan x="2079" y="2454">医疗行业中的不正之风，不利用职务之便谋取</tspan><tspan x="2079" y="2470">私利。不做损害患者利益的事情，不做损害医</tspan><tspan x="2079" y="2486">院的行为。对待患者一视同仁，为患者多考虑</tspan><tspan x="2079" y="2502">，节约医疗费用，不开大处方、不开多余检查</tspan><tspan x="2079" y="2518">单，合理控制医疗费用，合理用药，让患者得</tspan><tspan x="2079" y="2534">到最好的服务，为患者谋福利。</tspan></text>
<path class="u" d="M2070,2541 H2335"/>
</g>
<g id="p5s2">
<text class="b"><tspan x="1969" y="2732.5">二、业务水平</tspan></text>
<path class="u" d="M1961,2739.4 H2070"/>
</g>
<g id="p5s2a">
<text class="b"><tspan x="2079" y="2588.5">作为年轻的医师，业务上有待于提高，因此在</tspan><tspan x="2079" y="2604.5">临床工作中认真虚心向上级医师请教，同时结</tspan><tspan x="2079" y="2620.5">合书本知识来巩固自己所学。在平时的工作中</tspan><tspan x="2079" y="2636.5">，经常上门诊上认真学习高年资医师坐门诊如</tspan><tspan x="2079" y="2652.5">何处理患者，并经常请教不能理解的地方，做</tspan><tspan x="2079" y="2668.5">到不耻下问。在病房中认真管理床位病人，及</tspan><tspan x="2079" y="2684.5">时观察，及时调整用药等，学会在实践中提高</tspan><tspan x="2079" y="2700.5">自己。注重平时的业务学习，按时参加卫生局</tspan><tspan x="2079" y="2716.5">、医院组织的各项学习活动，保持知识的持久</tspan><tspan x="2079" y="2732.5">更新。</tspan></text>
<path class="u" d="M2070,2739.4 H2335"/>
</g>
<g id="p5s3">
<text class="b"><tspan x="1969" y="2886.5">三、管理岗位</tspan></text>
<path class="u" d="M1961,2895 H2060"/>
</g>
<g id="p5s3a">
<text class="b"><tspan x="2079" y="2786.5">在平时工作中分管__，与下属各个科室负责人沟</tspan><tspan x="2079" y="2802.5">通力合作，分院的业务每年都有一定的提升，</tspan><tspan x="2079" y="2818.5">同时注意协调好科室之间、同事之间的关系，</tspan><tspan x="2079" y="2834.5">让大家在愉快、融洽的环境下工作。</tspan></text>
<path class="u" d="M2066,2843.5 H2335"/>
</g>
<g id="p5s3b">
<text class="b"><tspan x="2079" y="2889.5">作为一名年轻医师，将来的道路还很漫长，我</tspan><tspan x="2079" y="2905.5">将在自己的岗位上对待管理工作认真负责、对</tspan><tspan x="2079" y="2921.5">待临床工作兢兢业业、恪尽职守，努力做好一</tspan><tspan x="2079" y="2937.5">名合格的门诊医生。</tspan></text>
<path class="u" d="M2066,2945.5 H2335"/>
</g>

<g id="pian7">
<text class="l"><tspan x="1400.6" y="3371">医院工作人员年度考核工作总结范</tspan><tspan x="1400.6" y="3392">文（精选篇7）</tspan></text>
<path class="u" d="M1390,3405 H1660"/>
</g>
<g id="p7d">
<text class="b"><tspan x="1685" y="3300.3">过去的一年中，在院领导和医院各科室同仁的</tspan><tspan x="1685" y="3316">支持帮助下，我在工作上积极主动，不断解放</tspan><tspan x="1685" y="3332">思想，更新观念，树立高度的事业心和责任心</tspan><tspan x="1685" y="3348.4">，围绕医院中心工作，严格管理，求真务实，</tspan><tspan x="1685" y="3364">踏实苦干，在医德医风、医疗质量、基层建设</tspan><tspan x="1685" y="3380">等方面取得了较好成绩，收获了成功和喜悦。</tspan><tspan x="1685" y="3395.7">现对今年工作总结汇报如下：</tspan></text>
<path class="u" d="M1660,3405 H1950"/>
</g>
<g id="p7s1">
<text class="b"><tspan x="1969" y="3056.5">一、提高个人医德素质及服务质量</tspan></text>
<path class="u" d="M1961,3065 H2183"/>
</g>
<g id="p7s1a">
<text class="b"><tspan x="2191" y="2992.2">端正思想态度。在思想上</tspan><tspan x="2191" y="3008.5">谨工作态度，服从领导，</tspan><tspan x="2191" y="3024.5">，始终将患者安全及医疗</tspan><tspan x="2191" y="3040.5">为我所追求的最终目标。</tspan><tspan x="2191" y="3056.5">正落实到患者服务当中去</tspan></text>
<path class="u" d="M2183,3065 H2446"/>
</g>
<g id="p7s2">
<text class="b"><tspan x="1969" y="3286.5">二、努力提高医务人员的业务水平</tspan></text>
<path class="u" d="M1961,3296 H2183"/>
</g>
<g id="p7s2a">
<text class="b"><tspan x="2191" y="3110.5">积极学习专业知识。本年</tspan><tspan x="2191" y="3126.5">业余时间，组织科室人员</tspan><tspan x="2191" y="3142.5">识，提高自身业务水平，</tspan><tspan x="2191" y="3158.5">相关课本专业基础知识，</tspan><tspan x="2191" y="3174.5">践操作，在实际手术操作</tspan><tspan x="2191" y="3190.5">术操作过程的注意事项，</tspan><tspan x="2191" y="3206.5">本技术操作的实践。实习</tspan><tspan x="2191" y="3222.5">操作中，均能独立熟练操</tspan><tspan x="2191" y="3238.5">。鼓励和支持报考参加成</tspan><tspan x="2191" y="3254.5">人教育继续学习，通过学</tspan><tspan x="2191" y="3270.5">历有了更进一步的提升。</tspan><tspan x="2191" y="3286.5">业务能力。</tspan></text>
<path class="u" d="M2183,3296 H2446"/>
</g>
<g id="p7s3">
<text class="b"><tspan x="1969" y="3453.5">三、改善就医环境，提高服务质量</tspan></text>
<path class="u" d="M1961,3461.4 H2183"/>
</g>
<g id="p7s3a">
<text class="b"><tspan x="2191" y="3341.5">制作了统一的宣传服务</tspan><tspan x="2191" y="3357.5">者认识了解并及时就诊；</tspan><tspan x="2191" y="3373.5">了进一步的改进，屋内的</tspan><tspan x="2191" y="3389.5">境有了进一步的美观；在</tspan><tspan x="2191" y="3405.5">，在院领导及同事的热心</tspan><tspan x="2191" y="3421.5">取暖设施，大大改善了就</tspan><tspan x="2191" y="3437.5">冬天来就诊的患者，延长</tspan><tspan x="2191" y="3453.5">服务质量得到了提升。</tspan></text>
<path class="u" d="M2183,3461.4 H2446"/>
</g>
<g id="p7s4">
<text class="b"><tspan x="1969" y="3734.5">四、加强医患沟通，构建和谐医患关系</tspan></text>
<path class="u" d="M1961,3743.6 H2197"/>
</g>
<g id="p7s4a">
<text class="b"><tspan x="2215" y="3508">为尊重患者的知情权</tspan><tspan x="2215" y="3524">的知情权、同意权和</tspan><tspan x="2215" y="3540">病诊断、治疗、用药</tspan><tspan x="2215" y="3556">实维护患者的健康权</tspan><tspan x="2215" y="3572">制度。牢固树立"以</tspan><tspan x="2215" y="3588">用通俗易懂的语言</tspan><tspan x="2215" y="3604">心向患者交代或解释</tspan><tspan x="2215" y="3620">积极主动改进工作，</tspan><tspan x="2215" y="3636">满意。</tspan></text>
<path class="u" d="M2207,3644.6 H2470"/>
</g>
<g id="p7s4b">
<text class="b"><tspan x="2215" y="3690.5">我还要加强学习，提</tspan><tspan x="2215" y="3706.5">觉，以忧患意识、自</tspan><tspan x="2215" y="3722.5">求科室永远的活力，</tspan><tspan x="2215" y="3738.5">我要把冲天的奋斗豪</tspan><tspan x="2215" y="3754.5">合，创业自强不息，</tspan><tspan x="2215" y="3770.5">善和提高服务的动力</tspan><tspan x="2215" y="3786.5">行动，以优质的服务</tspan><tspan x="2215" y="3802.5">工作中，我将发扬成</tspan><tspan x="2215" y="3818.5">工作热情，团结同事</tspan><tspan x="2215" y="3834.5">为医院的发展尽自己</tspan></text>
<path class="u" d="M2207,3843 H2470"/>
</g>
</svg>
